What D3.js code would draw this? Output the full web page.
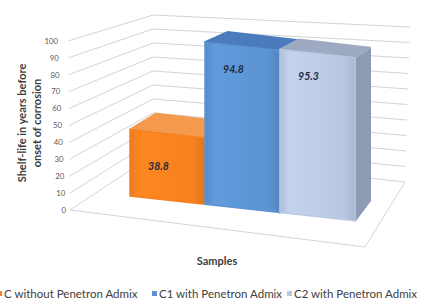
<!DOCTYPE html>
<html>
<head>
<meta charset="utf-8">
<script src="https://cdn.jsdelivr.net/npm/d3@7"></script>
<style>
  body { margin: 0; background: #fff; }
  svg { display: block; font-family: Lato, "Liberation Sans", sans-serif; }
  .tick { font-size: 7.8px; fill: #595959; }
  .axisTitle { font-size: 11px; font-weight: bold; fill: #404040; }
  .valueLabel { font-size: 10.5px; font-weight: bold; font-style: italic; fill: #1f2a3c; }
  .legend { font-size: 11.5px; fill: #404040; }
</style>
</head>
<body>
<script>
//Chart data
const categories = ['C without Penetron Admix', 'C1 with Penetron Admix', 'C2 with Penetron Admix'];
const values = [38.8, 94.8, 95.3];
const tickValues = [0, 10, 20, 30, 40, 50, 60, 70, 80, 90, 100];
const colours = [
    {front: '#f5801f', top: '#f39a4c', side: '#c8621a'},
    {front: '#5c93d1', top: '#4a7cbd', side: '#3f6aa3'},
    {front: '#b9c8e2', top: '#9eaac2', side: '#8e9bb3'}
];

const width = 421;
const height = 303;

const svg = d3.select('body').append('svg')
    .attr('width', width)
    .attr('height', height);

//Walls: front-left edge, back-left corner and back-right corner
const yFront = d3.scaleLinear().domain([0, 100]).range([210, 41]);
const xFront = d3.scaleLinear().domain([0, 100]).range([70, 68]);
const yBackL = d3.scaleLinear().domain([0, 100]).range([155, 15]);
const xBackL = 153;
const yBackR = d3.scaleLinear().domain([0, 100]).range([182, 27]);
const xBackR = d3.scaleLinear().domain([0, 100]).range([405, 410]);

//Bars front plane
const x = d3.scaleBand().domain(categories).range([130, 355]).paddingInner(0);
const h = d3.scaleLinear().domain([0, 100]).range([0, 171]);
const base = xx => 196 + 0.11 * (xx - 130);
const depthX = d3.scaleLinear().domain([130, 355]).range([26, 15]);
const depthY = d3.scaleLinear().domain([0, 100]).range([-20, -9.5]);

const grid = svg.append('g').attr('class', 'grid')
    .style('stroke', '#d4d4d4')
    .style('stroke-width', 1)
    .style('fill', 'none');

//Floor outline
grid.append('path')
    .attr('d', d3.line()([
        [xFront(0), yFront(0)],
        [365, 247],
        [xBackR(0), yBackR(0)]
    ]));

//Gridlines on left wall and back wall
grid.selectAll('path.gl')
    .data(tickValues)
    .enter()
    .append('path')
    .attr('class', 'gl')
    .attr('d', d => d3.line()([
        [xFront(d), yFront(d)],
        [xBackL, yBackL(d)],
        [xBackR(d), yBackR(d)]
    ]));

//Tick labels
svg.selectAll('text.tick')
    .data(tickValues)
    .enter()
    .append('text')
    .attr('class', 'tick')
    .attr('x', d => 66 - 0.08 * d)
    .attr('y', d => yFront(d))
    .attr('dy', '0.35em')
    .style('text-anchor', 'end')
    .text(d => d);

//Bars
const bars = categories.map((c, i) => {
    const x0 = x(c), x1 = x(c) + x.bandwidth(), v = values[i];
    const fl = [x0, base(x0)], fr = [x1, base(x1)];
    const tl = [x0, base(x0) - h(v)], tr = [x1, base(x1) - h(v)];
    const btl = [tl[0] + depthX(x0), tl[1] + depthY(v)];
    const btr = [tr[0] + depthX(x1), tr[1] + depthY(v)];
    const bbr = [fr[0] + depthX(x1), fr[1] + depthY(0)];
    return {name: c, value: v, i: i, front: [fl, fr, tr, tl], top: [tl, tr, btr, btl], side: [fr, tr, btr, bbr]};
});

const defs = svg.append('defs');
bars.forEach(b => {
    const g = defs.append('linearGradient')
        .attr('id', 'grad' + b.i)
        .attr('x1', 0).attr('x2', 1).attr('y1', 0).attr('y2', 0);
    const c = d3.color(colours[b.i].front);
    g.append('stop').attr('offset', '0%').attr('stop-color', c.darker(0.15));
    g.append('stop').attr('offset', '12%').attr('stop-color', c.brighter(0.15));
    g.append('stop').attr('offset', '85%').attr('stop-color', c);
    g.append('stop').attr('offset', '100%').attr('stop-color', c.darker(0.25));
});

const barG = svg.selectAll('g.bar')
    .data(bars)
    .enter()
    .append('g')
    .attr('class', 'bar')
    .style('stroke-linejoin', 'round');

barG.append('path')
    .attr('d', d => d3.line()(d.side) + 'Z')
    .style('fill', d => colours[d.i].side)
    .style('stroke', d => colours[d.i].side)
    .style('stroke-width', 2);

barG.append('path')
    .attr('d', d => d3.line()(d.top) + 'Z')
    .style('fill', d => colours[d.i].top)
    .style('stroke', d => colours[d.i].top)
    .style('stroke-width', 2);

barG.append('path')
    .attr('d', d => d3.line()(d.front) + 'Z')
    .style('fill', d => `url(#grad${d.i})`)
    .style('stroke', d => colours[d.i].front)
    .style('stroke-width', 1.5);

//Value labels
svg.selectAll('text.valueLabel')
    .data(bars)
    .enter()
    .append('text')
    .attr('class', 'valueLabel')
    .attr('x', d => x(d.name) + x.bandwidth() / 2 - 9)
    .attr('y', d => base(x(d.name) + x.bandwidth() / 2) - h(d.value) + 22 + 0.17 * (100 - d.value))
    .attr('dy', '0.35em')
    .style('text-anchor', 'middle')
    .text(d => d3.format('.1f')(d.value));

//Axis titles
const yTitle = svg.append('text')
    .attr('class', 'axisTitle')
    .attr('transform', 'translate(22,123) rotate(-90)')
    .style('text-anchor', 'middle');
yTitle.append('tspan').attr('x', 0).attr('dy', '0.35em').text('Shelf-life in years before');
yTitle.append('tspan').attr('x', 0).attr('dy', 15).text('onset of corrosion');

svg.append('text')
    .attr('class', 'axisTitle')
    .attr('x', 217)
    .attr('y', 261)
    .attr('dy', '0.35em')
    .style('text-anchor', 'middle')
    .text('Samples');

//Legend
const legendX = [4, 159, 294];
const legend = svg.selectAll('g.legendItem')
    .data(categories)
    .enter()
    .append('g')
    .attr('class', 'legendItem')
    .attr('transform', (d, i) => `translate(${legendX[i]},294)`);

legend.append('rect')
    .attr('x', -7)
    .attr('y', -3)
    .attr('width', 5)
    .attr('height', 5)
    .style('fill', (d, i) => colours[i].front);

legend.append('text')
    .attr('class', 'legend')
    .attr('dy', '0.35em')
    .text(d => d);
</script>
</body>
</html>
